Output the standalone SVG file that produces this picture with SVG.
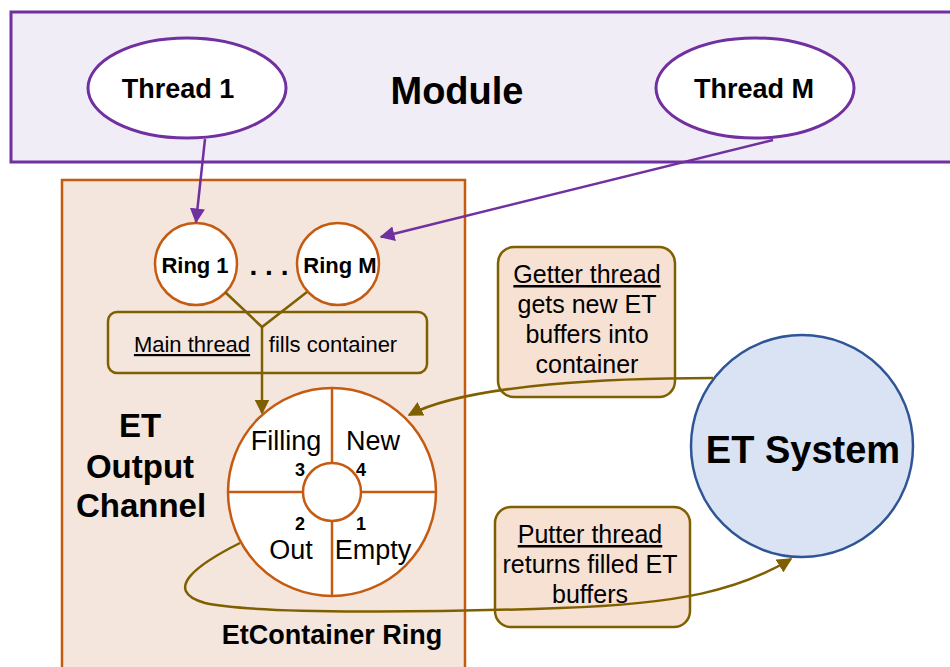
<svg xmlns="http://www.w3.org/2000/svg" width="950" height="667" viewBox="0 0 950 667">
<style>
text{font-family:"Liberation Sans",Arial,sans-serif;fill:#000}
.b{font-weight:bold}
.pur{fill:none;stroke:#7030a0;stroke-width:2.5}
.olv{fill:none;stroke:#7f6000;stroke-width:2.5}
.box{fill:#f7e1d3;stroke:#7f6000;stroke-width:2.5}
.org{stroke:#c55a11;stroke-width:2.5}
</style>
<defs>
<marker id="ap" viewBox="0 0 10 10" refX="9" refY="5" markerWidth="6" markerHeight="6" orient="auto" markerUnits="strokeWidth"><path d="M0,0L10,5L0,10z" fill="#7030a0"/></marker>
<marker id="ao" viewBox="0 0 10 10" refX="9" refY="5" markerWidth="6" markerHeight="6" orient="auto" markerUnits="strokeWidth"><path d="M0,0L10,5L0,10z" fill="#7f6000"/></marker>
</defs>
<rect width="950" height="667" fill="#fff"/>
<g id="module">
<rect x="11" y="12" width="960" height="150" fill="#f1edf6" stroke="#7030a0" stroke-width="3"/>
<text x="457" y="104" class="b" font-size="38" text-anchor="middle">Module</text>
</g>
<g id="thread1">
<ellipse cx="187" cy="88" rx="99" ry="50" fill="#fff" stroke="#7030a0" stroke-width="3"/>
<text x="178" y="98" class="b" font-size="27" text-anchor="middle">Thread 1</text>
</g>
<g id="threadM">
<ellipse cx="755" cy="88" rx="99" ry="50" fill="#fff" stroke="#7030a0" stroke-width="3"/>
<text x="754" y="98" class="b" font-size="27" text-anchor="middle">Thread M</text>
</g>
<g id="channel">
<rect x="62" y="180" width="403" height="500" fill="#f4e6dd" class="org"/>
<text class="b" font-size="33" text-anchor="middle"><tspan x="140" y="437">ET</tspan><tspan x="140" y="478">Output</tspan><tspan x="141" y="517">Channel</tspan></text>
</g>
<g id="mainthread">
<rect x="108" y="312" width="319" height="61" rx="9" class="olv"/>
<text x="192" y="352" font-size="22" text-anchor="middle" text-decoration="underline">Main thread</text>
<text x="333" y="352" font-size="22" text-anchor="middle">fills container</text>
</g>
<g id="ring1">
<circle cx="196" cy="264" r="41" fill="#fff" class="org"/>
<text x="195" y="273" class="b" font-size="22" text-anchor="middle">Ring 1</text>
</g>
<text x="269" y="275" class="b" font-size="28" text-anchor="middle">. . .</text>
<g id="ringM">
<circle cx="338" cy="264" r="41" fill="#fff" class="org"/>
<text x="340" y="273" class="b" font-size="22" text-anchor="middle">Ring M</text>
</g>
<g id="etcontainer">
<circle cx="332" cy="492" r="104" fill="#fff" class="org"/>
<line x1="228" y1="492" x2="436" y2="492" class="org"/>
<line x1="332" y1="388" x2="332" y2="596" class="org"/>
<circle cx="332" cy="492" r="29" fill="#fff" class="org"/>
<text x="286" y="450" font-size="27" text-anchor="middle">Filling</text>
<text x="373" y="450" font-size="27" text-anchor="middle">New</text>
<text x="300" y="476" class="b" font-size="18" text-anchor="middle">3</text>
<text x="361" y="476" class="b" font-size="18" text-anchor="middle">4</text>
<text x="300" y="530" class="b" font-size="18" text-anchor="middle">2</text>
<text x="361" y="530" class="b" font-size="18" text-anchor="middle">1</text>
<text x="291" y="559" font-size="27" text-anchor="middle">Out</text>
<text x="373" y="559" font-size="27" text-anchor="middle">Empty</text>
<text x="332" y="644" class="b" font-size="27" text-anchor="middle">EtContainer Ring</text>
</g>
<g id="getter">
<rect x="498" y="247" width="177" height="150" rx="16" class="box"/>
<text font-size="25" text-anchor="middle"><tspan x="587" y="283" text-decoration="underline">Getter thread</tspan><tspan x="587" y="313">gets new ET</tspan><tspan x="587" y="343">buffers into</tspan><tspan x="587" y="373">container</tspan></text>
</g>
<g id="putter">
<rect x="495" y="507" width="195" height="120" rx="16" class="box"/>
<text font-size="25" text-anchor="middle"><tspan x="590" y="543" text-decoration="underline">Putter thread</tspan><tspan x="590" y="573">returns filled ET</tspan><tspan x="590" y="603">buffers</tspan></text>
</g>
<g id="etsystem">
<circle cx="802" cy="446" r="111" fill="#dae3f3" stroke="#2f5597" stroke-width="2.5"/>
<text x="803" y="463" class="b" font-size="38" text-anchor="middle">ET System</text>
</g>
<g id="connectors">
<line x1="205" y1="139" x2="196" y2="222" class="pur" marker-end="url(#ap)"/>
<line x1="773" y1="140" x2="381" y2="237" class="pur" marker-end="url(#ap)"/>
<polyline points="225,292 262,327 307,292" class="olv"/>
<line x1="262" y1="327" x2="262" y2="413" class="olv" marker-end="url(#ao)"/>
<path d="M713,378 C620,378 470,383 409,415" class="olv" marker-end="url(#ao)"/>
<path d="M240,543 C200,563 160,590 205,603 C260,615 450,612 560,608 C680,604 740,590 791,559" class="olv" marker-end="url(#ao)"/>
</g>
</svg>
